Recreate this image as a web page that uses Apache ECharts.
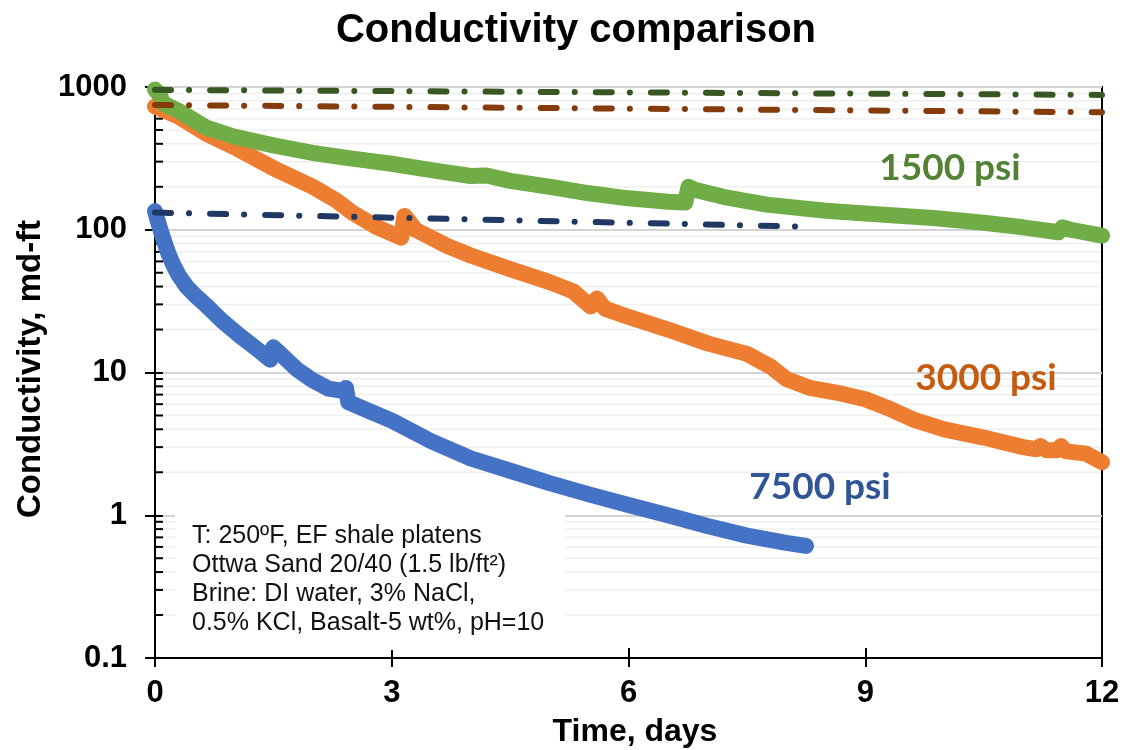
<!DOCTYPE html>
<html>
<head>
<meta charset="utf-8">
<script src="https://cdn.jsdelivr.net/npm/echarts@6/dist/echarts.min.js"></script>
<style>
  html, body { margin: 0; padding: 0; background: #ffffff; }
  #chart { width: 1125px; height: 750px; }
</style>
</head>
<body>
<div id="chart"></div>
<script>
// ---- axis ticks ----
const timeTicks = [0, 3, 6, 9, 12];
const yMajorTicks = [0.1, 1, 10, 100, 1000];
const yMajorLabels = ['0.1', '1', '10', '100', '1000'];
const yMinorTicks = [
  0.2, 0.3, 0.4, 0.5, 0.6, 0.7, 0.8, 0.9,
  2, 3, 4, 5, 6, 7, 8, 9,
  20, 30, 40, 50, 60, 70, 80, 90,
  200, 300, 400, 500, 600, 700, 800, 900
];

// ---- measured conductivity (md-ft) vs time (days) ----
const time1500 = [0, 0.06, 0.1, 0.3, 0.65, 1.0, 1.5, 2.0, 2.5, 3.0, 3.5, 4.0, 4.2, 4.5, 5.0, 5.5, 6.0, 6.5, 6.72, 6.76, 6.85, 7.2, 7.75, 8.5, 9.0, 9.86, 10.5, 11.0, 11.45, 11.5, 11.6, 12.0];
const cond1500 = [960, 880, 770, 680, 520, 450, 390, 345, 315, 290, 262, 238, 240, 220, 200, 180, 166, 157, 155, 200, 190, 170, 150, 136, 130, 121, 112, 104, 96, 104, 100, 91];

const time3000 = [0, 0.3, 0.65, 1.0, 1.5, 2.0, 2.3, 2.5, 2.8, 3.12, 3.16, 3.2, 3.3, 3.7, 4.0, 4.5, 5.0, 5.3, 5.52, 5.6, 5.7, 6.0, 6.5, 7.0, 7.5, 7.8, 8.0, 8.3, 8.7, 9.0, 9.3, 9.6, 10.0, 10.5, 11.0, 11.17, 11.22, 11.3, 11.43, 11.48, 11.55, 11.8, 12.0];
const cond3000 = [730, 620, 470, 380, 270, 200, 160, 132, 105, 88, 125, 118, 100, 77, 66, 53, 43, 37, 29, 33, 28, 24.5, 20, 16, 13.5, 11, 9, 7.8, 7.1, 6.5, 5.6, 4.7, 4.0, 3.5, 3.0, 2.9, 3.05, 2.85, 2.85, 3.05, 2.8, 2.7, 2.35];

const time7500 = [0, 0.05, 0.1, 0.17, 0.23, 0.3, 0.4, 0.5, 0.65, 0.85, 1.08, 1.3, 1.46, 1.5, 1.56, 1.8, 2.0, 2.2, 2.4, 2.42, 2.45, 2.7, 3.0, 3.5, 4.0, 4.5, 5.0, 5.5, 6.0, 6.5, 7.0, 7.5, 8.0, 8.25];
const cond7500 = [135, 108, 88, 68, 57, 48, 40, 35, 29.5, 23, 18, 14.5, 12.3, 15, 14, 10.5, 8.8, 7.7, 7.4, 7.8, 6.2, 5.4, 4.6, 3.3, 2.5, 2.05, 1.68, 1.4, 1.18, 1.0, 0.84, 0.72, 0.64, 0.61];

// ---- reference (dash-dot) conductivity trends ----
const refTime1500 = [0, 12];
const refCond1500 = [955, 880];
const refTime3000 = [0, 12];
const refCond3000 = [748, 665];
const refTime7500 = [0, 8.3];
const refCond7500 = [132, 105];

// ---- text ----
const seriesNames = ['1500 psi', '3000 psi', '7500 psi'];
const noteLines = [
  'T: 250ºF, EF shale platens',
  'Ottwa Sand 20/40 (1.5 lb/ft²)',
  'Brine: DI water, 3% NaCl,',
  '0.5% KCl, Basalt-5 wt%, pH=10'
];

const zip = (xs, ys) => xs.map((x, i) => [x, ys[i]]);

const chart = echarts.init(document.getElementById('chart'), null, { renderer: 'canvas' });

const boldSans = '"Liberation Sans", Arial, sans-serif';
const dashDot = [16, 18, 0.1, 21];

function mainLine(name, xs, ys, color) {
  return {
    name, type: 'line', data: zip(xs, ys), showSymbol: false, smooth: false,
    z: 3, silent: true,
    lineStyle: { color, width: 16, cap: 'round', join: 'round' }
  };
}
function refLine(name, xs, ys, color) {
  return {
    name, type: 'line', data: zip(xs, ys), showSymbol: false, z: 4, silent: true,
    lineStyle: { color, width: 6, type: dashDot, cap: 'round' }
  };
}

const option = {
  backgroundColor: '#ffffff',
  animation: false,
  title: {
    text: 'Conductivity comparison',
    left: 571, top: 6, textAlign: 'center',
    textStyle: { fontFamily: boldSans, fontWeight: 'bold', fontSize: 40, color: '#000' }
  },
  grid: {
    left: 155, right: 23, top: 87, bottom: 92,
    show: true, borderColor: '#000', borderWidth: 2, backgroundColor: 'transparent'
  },
  xAxis: [{
    type: 'value', min: 0, max: 12, interval: 3,
    axisLine: { show: true, lineStyle: { color: '#000', width: 2 } },
    axisTick: { show: true, length: 9, lineStyle: { color: '#000', width: 2 } },
    axisLabel: {
      margin: 20, color: '#000', fontFamily: boldSans, fontWeight: 'bold', fontSize: 31,
      formatter: v => String(timeTicks.find(t => Math.abs(t - v) < 1e-6) ?? v)
    },
    splitLine: { show: false }
  }, {
    type: 'value', min: 0, max: 12, interval: 3, position: 'bottom',
    axisLine: { show: false },
    axisTick: { show: true, inside: true, length: 10, lineStyle: { color: '#000', width: 2 } },
    axisLabel: { show: false }, splitLine: { show: false }
  }],
  yAxis: [{
    type: 'log', logBase: 10, min: 0.1, max: 1000,
    axisLine: { show: true, lineStyle: { color: '#000', width: 2 } },
    axisTick: { show: true, length: 10, lineStyle: { color: '#000', width: 2 } },
    axisLabel: {
      margin: 28, color: '#000', fontFamily: boldSans, fontWeight: 'bold', fontSize: 31,
      formatter: v => {
        let best = 0;
        yMajorTicks.forEach((t, i) => {
          if (Math.abs(Math.log10(t) - Math.log10(v)) < Math.abs(Math.log10(yMajorTicks[best]) - Math.log10(v))) best = i;
        });
        return yMajorLabels[best];
      }
    },
    splitLine: { show: true, lineStyle: { color: '#d4d4d4', width: 2 } }
  }, {
    type: 'log', logBase: 10, min: 0.1, max: 1000, position: 'left',
    axisLine: { show: false },
    axisTick: { show: true, inside: true, length: 8, lineStyle: { color: '#000', width: 2 } },
    axisLabel: { show: false }, splitLine: { show: false }
  }],
  graphic: [
    {
      type: 'text', x: 31, y: 369, rotation: Math.PI / 2, z: 20,
      style: {
        x: 0, y: 0,
        text: 'Conductivity, md-ft', fill: '#000',
        font: 'bold 33px "Liberation Sans", Arial, sans-serif',
        textAlign: 'center', textVerticalAlign: 'middle'
      }
    },
    {
      type: 'text', z: 20,
      style: {
        x: 635, y: 732,
        text: 'Time, days', fill: '#000',
        font: 'bold 32px "Liberation Sans", Arial, sans-serif',
        textAlign: 'center', textVerticalAlign: 'middle'
      }
    },
    {
      type: 'rect', z: 15,
      shape: { x: 175, y: 508, width: 390, height: 142 },
      style: { fill: '#ffffff' }
    },
    {
      type: 'text', z: 20,
      style: {
        x: 192, y: 522,
        text: noteLines.join('\n'), fill: '#111',
        font: '25px "Liberation Sans", Arial, sans-serif',
        lineHeight: 29, textAlign: 'left', textVerticalAlign: 'top'
      }
    },
    {
      type: 'text', z: 20,
      style: {
        x: 950, y: 168, text: seriesNames[0], fill: '#548235',
        font: 'bold 37px Lato, "Open Sans", sans-serif',
        textAlign: 'center', textVerticalAlign: 'middle'
      }
    },
    {
      type: 'text', z: 20,
      style: {
        x: 986, y: 378, text: seriesNames[1], fill: '#C55A11',
        font: 'bold 37px Lato, "Open Sans", sans-serif',
        textAlign: 'center', textVerticalAlign: 'middle'
      }
    },
    {
      type: 'text', z: 20,
      style: {
        x: 820, y: 487, text: seriesNames[2], fill: '#2F5597',
        font: 'bold 37px Lato, "Open Sans", sans-serif',
        textAlign: 'center', textVerticalAlign: 'middle'
      }
    }
  ],
  series: [
    {
      // minor gridlines and inside minor ticks at 2..9 of each decade
      name: 'minor', type: 'custom', silent: true, z: 1,
      data: yMinorTicks.map(v => [0, v]),
      renderItem: (params, api) => {
        const p = api.coord([0, api.value(1)]);
        const cs = params.coordSys;
        return {
          type: 'group',
          children: [
            { type: 'line', shape: { x1: cs.x + 1, y1: p[1], x2: cs.x + cs.width - 1, y2: p[1] },
              style: { stroke: '#efefef', lineWidth: 1.5 } },
            { type: 'line', shape: { x1: cs.x, y1: p[1], x2: cs.x + 8, y2: p[1] },
              style: { stroke: '#000', lineWidth: 2 } }
          ]
        };
      }
    },
    mainLine(seriesNames[2], time7500, cond7500, '#4472C4'),
    mainLine(seriesNames[1], time3000, cond3000, '#ED7D31'),
    mainLine(seriesNames[0], time1500, cond1500, '#70AD47'),
    refLine('ref ' + seriesNames[0], refTime1500, refCond1500, '#385723'),
    refLine('ref ' + seriesNames[1], refTime3000, refCond3000, '#843C0C'),
    refLine('ref ' + seriesNames[2], refTime7500, refCond7500, '#1F3864')
  ]
};

chart.setOption(option);
</script>
</body>
</html>
